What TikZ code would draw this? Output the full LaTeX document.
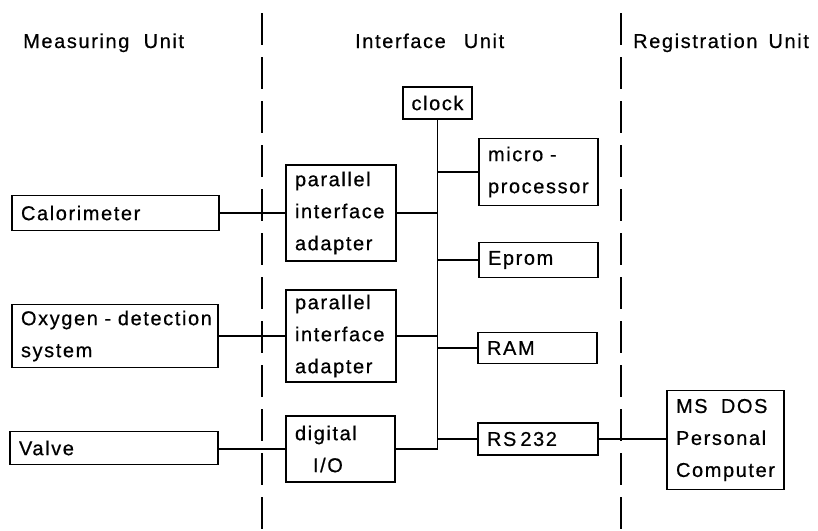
\documentclass[tikz,border=0pt]{standalone}
\usepackage{fontspec}
\setmainfont[LetterSpace=8,FakeBold=0.6]{Liberation Sans}
\begin{document}
\begin{tikzpicture}[x=1pt,y=-1pt,
  every node/.style={font=\fontsize{20}{32}\selectfont},
  blk/.style={draw,line width=1.6pt,inner sep=0pt,align=left},
  wire/.style={line width=1.6pt},
  divider/.style={line width=1.2pt,dash pattern=on 32pt off 12pt},
  head/.style={anchor=base west,inner sep=0pt}]
\useasboundingbox (0,0) rectangle (818,530);

% column dividers
\draw[divider] (262,13) -- (262,530);
\draw[divider] (621,13) -- (621,530);

% column headings
\node[head] (hm) at (23,48) {Measuring\ \ Unit};
\node[head] (hi) at (355,48) {Interface\hspace{18pt}Unit};
\node[head] (hr) at (633,48) {Registration\hspace{11pt}Unit};

% measuring unit
\node[blk,minimum width=207pt,minimum height=35pt,text width=189pt] (cal) at (115.5,213) {Calorimeter};
\node[blk,minimum width=206pt,minimum height=63pt,text width=188pt] (oxy) at (115,336) {Oxygen - detection\\system};
\node[blk,minimum width=208pt,minimum height=33pt,text width=190pt] (valve) at (114,448) {Valve};

% interface unit
\node[blk,minimum width=110pt,minimum height=96pt,text width=92pt] (par1) at (341,213) {parallel\\interface\\adapter};
\node[blk,minimum width=110pt,minimum height=92pt,text width=92pt] (par2) at (341,336) {parallel\\interface\\adapter};
\node[blk,minimum width=109pt,minimum height=66pt,text width=91pt] (dig) at (340.5,449) {digital\\\hspace*{18pt}I/O};
\node[blk,minimum width=69pt,minimum height=32pt,align=center] (clock) at (437.5,103) {clock};
\node[blk,minimum width=119pt,minimum height=67pt,text width=101pt] (micro) at (538.5,172) {micro -\\processor};
\node[blk,minimum width=119pt,minimum height=35pt,text width=101pt] (eprom) at (538.5,260) {Eprom};
\node[blk,minimum width=119pt,minimum height=31pt,text width=101pt] (ram) at (537.5,348) {RAM};
\node[blk,minimum width=120pt,minimum height=32pt,text width=102pt] (rs) at (538,439) {RS\hspace{4pt}232};

% registration unit
\node[blk,minimum width=117pt,minimum height=99pt,text width=99pt] (pc) at (725.5,440) {MS\ \ DOS\\Personal\\Computer};

% bus
\coordinate (busend) at (437,449);
\draw[wire] (clock.south) -- (clock.south |- busend);

% connections
\draw[wire] (cal.east) -- (cal.east -| par1.west);
\draw[wire] (oxy.east) -- (oxy.east -| par2.west);
\draw[wire] (valve.east |- dig.west) -- (dig.west);
\draw[wire] (par1.east) -- (par1.east -| clock.south);
\draw[wire] (par2.east) -- (par2.east -| clock.south);
\draw[wire] (dig.east) -- (dig.east -| clock.south);
\draw[wire] (micro.west) -- (micro.west -| clock.south);
\draw[wire] (eprom.west) -- (eprom.west -| clock.south);
\draw[wire] (ram.west) -- (ram.west -| clock.south);
\draw[wire] (rs.west) -- (rs.west -| clock.south);
\draw[wire] (rs.east) -- (pc.west |- rs.east);
\end{tikzpicture}
\end{document}
